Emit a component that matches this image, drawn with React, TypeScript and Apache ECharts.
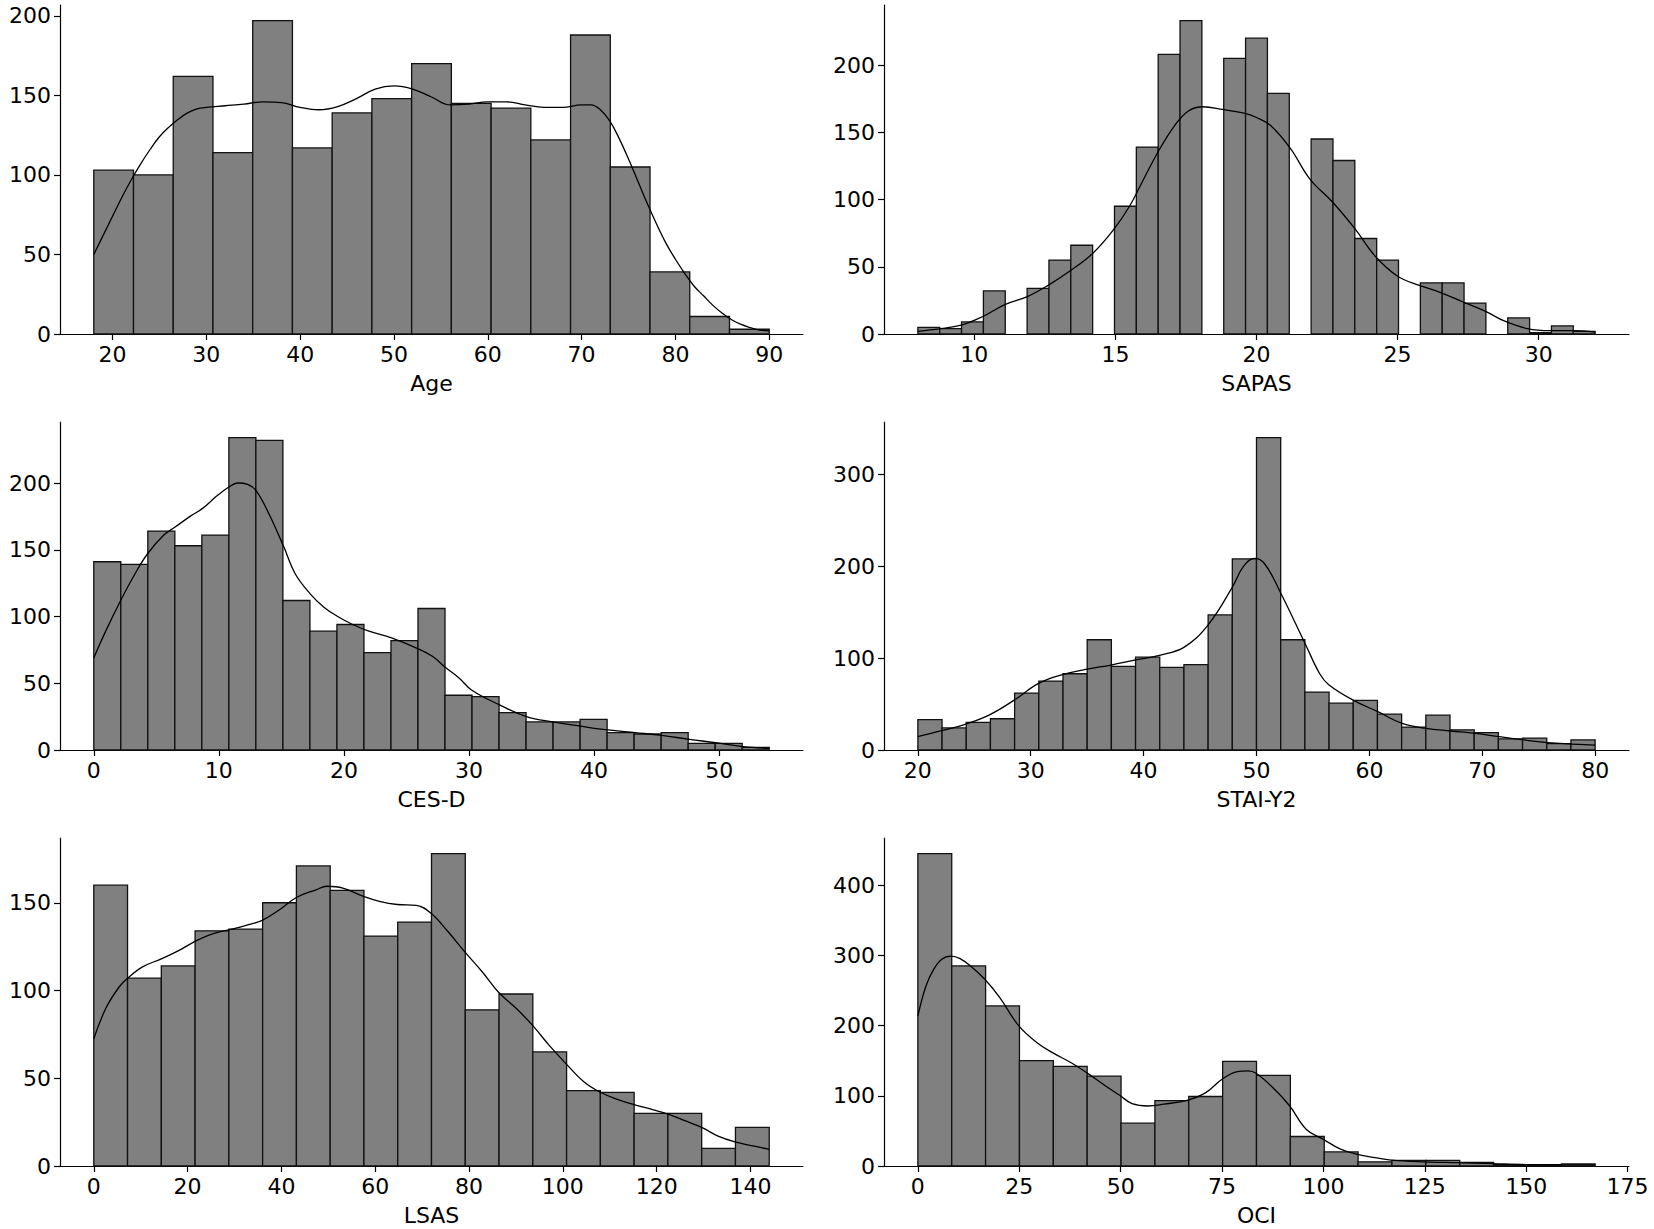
import React, { useEffect, useRef } from "react";
import * as echarts from "echarts";

// ---------- Age ----------
const ageCounts = [103, 100, 162, 114, 197, 117, 139, 148, 170, 145, 142, 122, 188, 105, 39, 11, 3];
const ageRange = [18, 90];
const ageKdeX = [18, 19, 20, 21, 22, 23, 24, 25, 26, 27, 28, 29, 30, 32, 34, 36, 38, 40, 42, 44, 46, 48, 50, 52, 54, 56, 58, 60, 62, 64, 66, 68, 70, 71, 72, 73, 74, 75, 76, 77, 78, 79, 80, 81, 82, 83, 84, 85, 86, 87, 88, 89, 90];
const ageKdeY = [50, 62, 74, 86, 97, 107, 116, 124, 130, 135, 139, 141.5, 142.5, 143.5, 144.5, 146, 145.5, 142.5, 141, 143, 148, 154, 156, 154, 149, 144, 144.5, 146, 146, 144, 142.5, 142.5, 144, 144, 141, 134, 123, 110, 96, 82, 69, 57, 47, 38, 30, 24, 18, 13, 9, 6, 4, 2.5, 2];
const ageXTicks = [20, 30, 40, 50, 60, 70, 80, 90];
const ageYTicks = [0, 50, 100, 150, 200];

// ---------- SAPAS ----------
const sapasCounts = [5, 4, 9, 32, 0, 34, 55, 66, 0, 95, 139, 208, 233, 0, 205, 220, 179, 0, 145, 129, 71, 55, 0, 38, 38, 23, 0, 12, 1, 6, 2];
const sapasRange = [8, 32];
const sapasKdeX = [8, 8.8, 9.6, 10.3, 11.1, 11.9, 12.6, 13.4, 14.2, 14.95, 15.5, 15.9, 16.5, 17.1, 17.6, 18.1, 18.8, 19.6, 20.0, 20.5, 21.2, 21.9, 22.7, 23.5, 24.2, 25.0, 25.8, 26.5, 27.3, 28.1, 28.8, 29.6, 30.4, 31.2, 32];
const sapasKdeY = [2, 4, 7, 13, 22, 28, 36, 47, 60, 78, 95, 111, 135, 155, 166, 169, 167, 164, 161, 155, 138, 115, 98, 78, 58, 43, 36, 31, 24, 17, 9.5, 4, 2.5, 2.5, 1.5];
const sapasXTicks = [10, 15, 20, 25, 30];
const sapasYTicks = [0, 50, 100, 150, 200];

// ---------- CES-D ----------
const cesdCounts = [141, 139, 164, 153, 161, 234, 232, 112, 89, 94, 73, 82, 106, 41, 40, 28, 21, 21, 23, 13, 12, 13, 5, 5, 2];
const cesdRange = [0, 54];
const cesdKdeX = [0, 1, 2.15, 3.3, 4.3, 5.6, 6.5, 7.7, 8.7, 9.8, 10.8, 11.5, 12.3, 13.0, 14.0, 15.2, 16.1, 17.3, 18.4, 19.5, 20.7, 22.0, 23.8, 25.9, 27.1, 28.1, 29.2, 30.2, 32.4, 34.6, 36.7, 38.8, 41.1, 43.3, 45.4, 47.6, 49.7, 51.9, 54];
const cesdKdeY = [69, 90, 112, 132, 147, 161, 167, 175, 181, 190, 197, 200, 199, 194, 177, 152, 132, 117, 107, 100, 94, 89, 84, 76, 70, 62, 54, 45, 34, 25, 21, 18, 15, 13, 11, 8, 5.5, 2.5, 1.2];
const cesdXTicks = [0, 10, 20, 30, 40, 50];
const cesdYTicks = [0, 50, 100, 150, 200];

// ---------- STAI-Y2 ----------
const staiCounts = [33, 24, 30, 34, 62, 75, 83, 120, 91, 101, 90, 93, 147, 208, 340, 120, 63, 51, 54, 39, 25, 38, 22, 19, 12, 13, 7, 11];
const staiRange = [20, 80];
const staiKdeX = [20, 22.1, 24.2, 26.3, 28.5, 30.7, 32.8, 35.0, 37.1, 39.3, 41.4, 43.6, 45.7, 47.9, 48.8, 49.8, 50.7, 52.1, 54.3, 55.6, 56.4, 58.6, 60.7, 62.9, 65.0, 67.2, 69.4, 71.5, 73.7, 75.8, 77.9, 80];
const staiKdeY = [14.5, 21, 28, 38, 54, 72.5, 82, 88, 92.5, 98, 103, 112, 136, 178, 199, 208.5, 203, 172, 116, 83, 71, 54, 42, 29, 23.6, 20.7, 18, 14.5, 11, 8, 6.5, 5.4];
const staiXTicks = [20, 30, 40, 50, 60, 70, 80];
const staiYTicks = [0, 100, 200, 300];

// ---------- LSAS ----------
const lsasCounts = [160, 107, 114, 134, 135, 150, 171, 157, 131, 139, 178, 89, 98, 65, 43, 42, 30, 30, 10, 22];
const lsasRange = [0, 144];
const lsasKdeX = [0, 2.6, 5.4, 7.2, 10.4, 14.4, 18.3, 21.6, 25.0, 28.7, 32.3, 35.9, 39.6, 43.2, 47.4, 49.7, 53.1, 57.5, 60.9, 64.7, 68.8, 71.9, 75.5, 79.1, 82.8, 86.3, 90.1, 93.6, 97.1, 100.7, 104.6, 108, 111.6, 115.2, 118.8, 122.4, 126, 129.6, 133.1, 136.7, 140.5, 144];
const lsasKdeY = [72.5, 90, 102, 107, 113.5, 118, 123, 128, 132, 134.5, 137, 140, 146, 153, 157.4, 159.4, 158.4, 153.6, 150.8, 149, 148.5, 144, 133.6, 122, 110.7, 99, 89.7, 80, 68.7, 58.2, 47.7, 42, 38, 35, 32.4, 29.6, 25.8, 22, 17, 13.7, 11.5, 9.5];
const lsasXTicks = [0, 20, 40, 60, 80, 100, 120, 140];
const lsasYTicks = [0, 50, 100, 150];

// ---------- OCI ----------
const ociCounts = [445, 285, 228, 150, 142, 128, 61, 93, 99, 149, 129, 42, 20, 6, 8, 8, 5, 2, 2, 3];
const ociRange = [0, 167];
const ociKdeX = [0, 2, 3.9, 5.9, 8.2, 10.4, 13, 16.5, 20.2, 24.9, 29.3, 33.2, 37.8, 41.6, 46.3, 49.9, 52.8, 56.7, 60.6, 66.6, 71, 75, 78.8, 81.4, 83.4, 88, 91.7, 95.8, 100, 104.2, 108.4, 112.7, 116.7, 125, 133.5, 141.9, 150.2, 158.6, 167];
const ociKdeY = [214, 256.5, 280, 294.5, 299, 295.5, 285, 266, 240, 199.5, 176, 161.5, 147, 133, 114, 100, 89, 85.5, 88, 94, 104.5, 123.5, 134.4, 135.4, 132, 109, 85.5, 52, 38, 24, 16.6, 12, 8.5, 6, 4.75, 3.3, 2, 1.5, 1.5];
const ociXTicks = [0, 25, 50, 75, 100, 125, 150, 175];
const ociYTicks = [0, 100, 200, 300, 400];

const panels = [
  { name: "Age", counts: ageCounts, range: ageRange, kx: ageKdeX, ky: ageKdeY, xt: ageXTicks, yt: ageYTicks },
  { name: "SAPAS", counts: sapasCounts, range: sapasRange, kx: sapasKdeX, ky: sapasKdeY, xt: sapasXTicks, yt: sapasYTicks },
  { name: "CES-D", counts: cesdCounts, range: cesdRange, kx: cesdKdeX, ky: cesdKdeY, xt: cesdXTicks, yt: cesdYTicks },
  { name: "STAI-Y2", counts: staiCounts, range: staiRange, kx: staiKdeX, ky: staiKdeY, xt: staiXTicks, yt: staiYTicks },
  { name: "LSAS", counts: lsasCounts, range: lsasRange, kx: lsasKdeX, ky: lsasKdeY, xt: lsasXTicks, yt: lsasYTicks },
  { name: "OCI", counts: ociCounts, range: ociRange, kx: ociKdeX, ky: ociKdeY, xt: ociXTicks, yt: ociYTicks },
];

const FONT = "DejaVu Sans";
const FS = 22;

function buildOption() {
  const lefts = [60, 884];
  const widths = [743, 745];
  const tops = [5, 422, 838];
  const heights = [329, 328, 328];
  const grid: any[] = [];
  const xAxis: any[] = [];
  const yAxis: any[] = [];
  const series: any[] = [];
  panels.forEach((p, i) => {
    const col = i % 2;
    const row = Math.floor(i / 2);
    grid.push({
      left: lefts[col],
      top: tops[row],
      width: widths[col],
      height: heights[row],
      containLabel: false,
      outerBoundsMode: "none",
    });
    const [lo, hi] = p.range;
    const span = hi - lo;
    const maxCount = Math.max(...p.counts);
    xAxis.push({
      type: "value",
      gridIndex: i,
      min: lo - span * 0.05,
      max: hi + span * 0.05,
      name: p.name,
      nameLocation: "middle",
      nameGap: 38,
      nameTextStyle: { fontFamily: FONT, fontSize: FS, color: "#000" },
      axisLine: { onZero: false, lineStyle: { color: "#000", width: 1.2 } },
      axisTick: { show: true, length: 6, customValues: p.xt, lineStyle: { color: "#000", width: 1.2 } },
      axisLabel: { customValues: p.xt, fontFamily: FONT, fontSize: FS, color: "#000", margin: 9 },
      splitLine: { show: false },
    });
    yAxis.push({
      type: "value",
      gridIndex: i,
      min: 0,
      max: maxCount * 1.05,
      axisLine: { show: true, onZero: false, lineStyle: { color: "#000", width: 1.2 } },
      axisTick: { show: true, length: 6, customValues: p.yt, lineStyle: { color: "#000", width: 1.2 } },
      axisLabel: { customValues: p.yt, fontFamily: FONT, fontSize: FS, color: "#000", margin: 9 },
      splitLine: { show: false },
    });
    const n = p.counts.length;
    const w = span / n;
    const binData = p.counts.map((c, k) => [lo + k * w, lo + (k + 1) * w, c]);
    series.push({
      type: "custom",
      xAxisIndex: i,
      yAxisIndex: i,
      data: binData,
      encode: { x: [0, 1], y: 2 },
      renderItem: (params: any, api: any) => {
        const x0 = api.value(0);
        const x1 = api.value(1);
        const y = api.value(2);
        if (!y) return null;
        const p0 = api.coord([x0, y]);
        const p1 = api.coord([x1, 0]);
        return {
          type: "rect",
          shape: { x: p0[0], y: p0[1], width: p1[0] - p0[0], height: p1[1] - p0[1] },
          style: { fill: "#808080", stroke: "#111", lineWidth: 1.3 },
        };
      },
      z: 2,
    });
    series.push({
      type: "line",
      xAxisIndex: i,
      yAxisIndex: i,
      data: p.kx.map((x, k) => [x, p.ky[k]]),
      smooth: 0.4,
      showSymbol: false,
      symbol: "none",
      lineStyle: { color: "#000", width: 1.3 },
      z: 3,
    });
  });
  return {
    animation: false,
    backgroundColor: "#fff",
    grid,
    xAxis,
    yAxis,
    series,
  };
}

export default function App() {
  const ref = useRef<HTMLDivElement>(null);
  useEffect(() => {
    if (!ref.current) return;
    const chart = echarts.init(ref.current, null, { renderer: "svg" });
    chart.setOption(buildOption() as any);
    return () => chart.dispose();
  }, []);
  return (
    <div
      ref={ref}
      style={{ position: "absolute", left: 0, top: 0, width: 1654, height: 1229, background: "#fff" }}
    />
  );
}
